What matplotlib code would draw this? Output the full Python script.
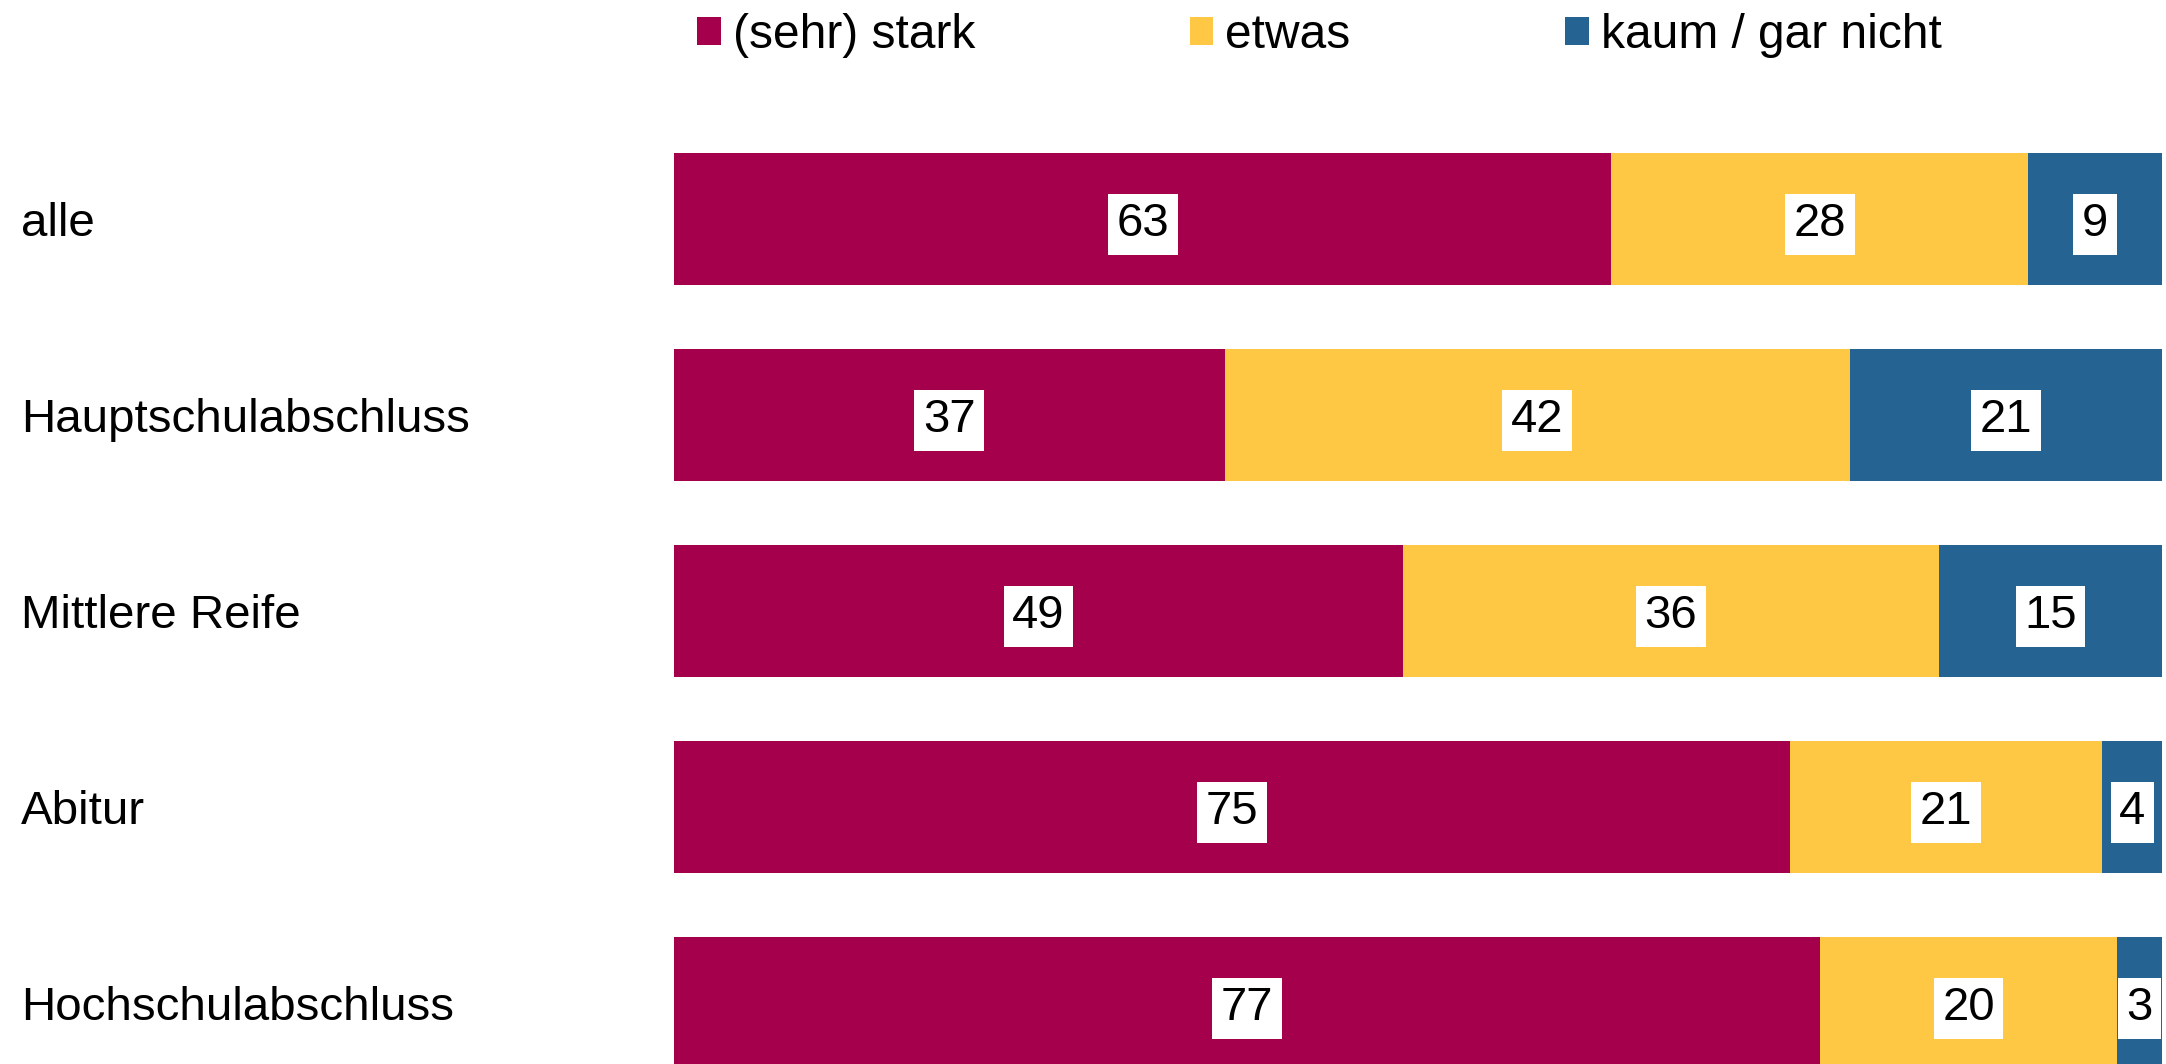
import matplotlib.pyplot as plt
from matplotlib.patches import Patch
from matplotlib.transforms import blended_transform_factory

plt.rcParams['font.family'] = ['Liberation Sans', 'DejaVu Sans']

# Data
groups = ["alle", "Hauptschulabschluss", "Mittlere Reife", "Abitur", "Hochschulabschluss"]
stark = [63, 37, 49, 75, 77]
etwas = [28, 42, 36, 21, 20]
kaum = [9, 21, 15, 4, 3]
series_names = ["(sehr) stark", "etwas", "kaum / gar nicht"]
colors = ["#A5004B", "#FEC845", "#246392"]

W, H = 2166, 1064
fig = plt.figure(figsize=(W / 100, H / 100), dpi=100)

# axes placed in pixel terms: bars from x=674 to 2162, rows centred at 219 + 196*i
ax = fig.add_axes([674 / W, 0, (2162 - 674) / W, 1])
ax.set_xlim(0, 100)
ax.set_ylim((H - 219) / 196, -219 / 196)
ax.axis("off")

ypos = list(range(len(groups)))
left = [0] * len(groups)
for name, vals, col in zip(series_names, [stark, etwas, kaum], colors):
    ax.barh(ypos, vals, left=left, height=0.67, color=col, label=name)
    for y, l, v in zip(ypos, left, vals):
        ax.text(l + v / 2, y, str(v), ha="center", va="center_baseline",
                fontsize=34, color="black",
                bbox=dict(boxstyle="square,pad=0.18", fc="white", ec="none"))
    left = [a + b for a, b in zip(left, vals)]

# category labels on the left (x in figure coords, y in data coords)
trans = blended_transform_factory(fig.transFigure, ax.transData)
for y, g in zip(ypos, groups):
    fig.text(21 / W, y, g, transform=trans, fontsize=34.2,
             ha="left", va="center_baseline")

handles = [Patch(facecolor=c, edgecolor="none") for c in colors]
fig.legend(handles, series_names, loc="upper left", bbox_to_anchor=(697 / W, 1 - 13 / H),
           ncol=3, frameon=False, fontsize=34.5, handlelength=0.5, handleheight=0.53,
           handletextpad=0.25, columnspacing=4.47, borderpad=0, borderaxespad=0)

fig.savefig("out.png", dpi=100)
